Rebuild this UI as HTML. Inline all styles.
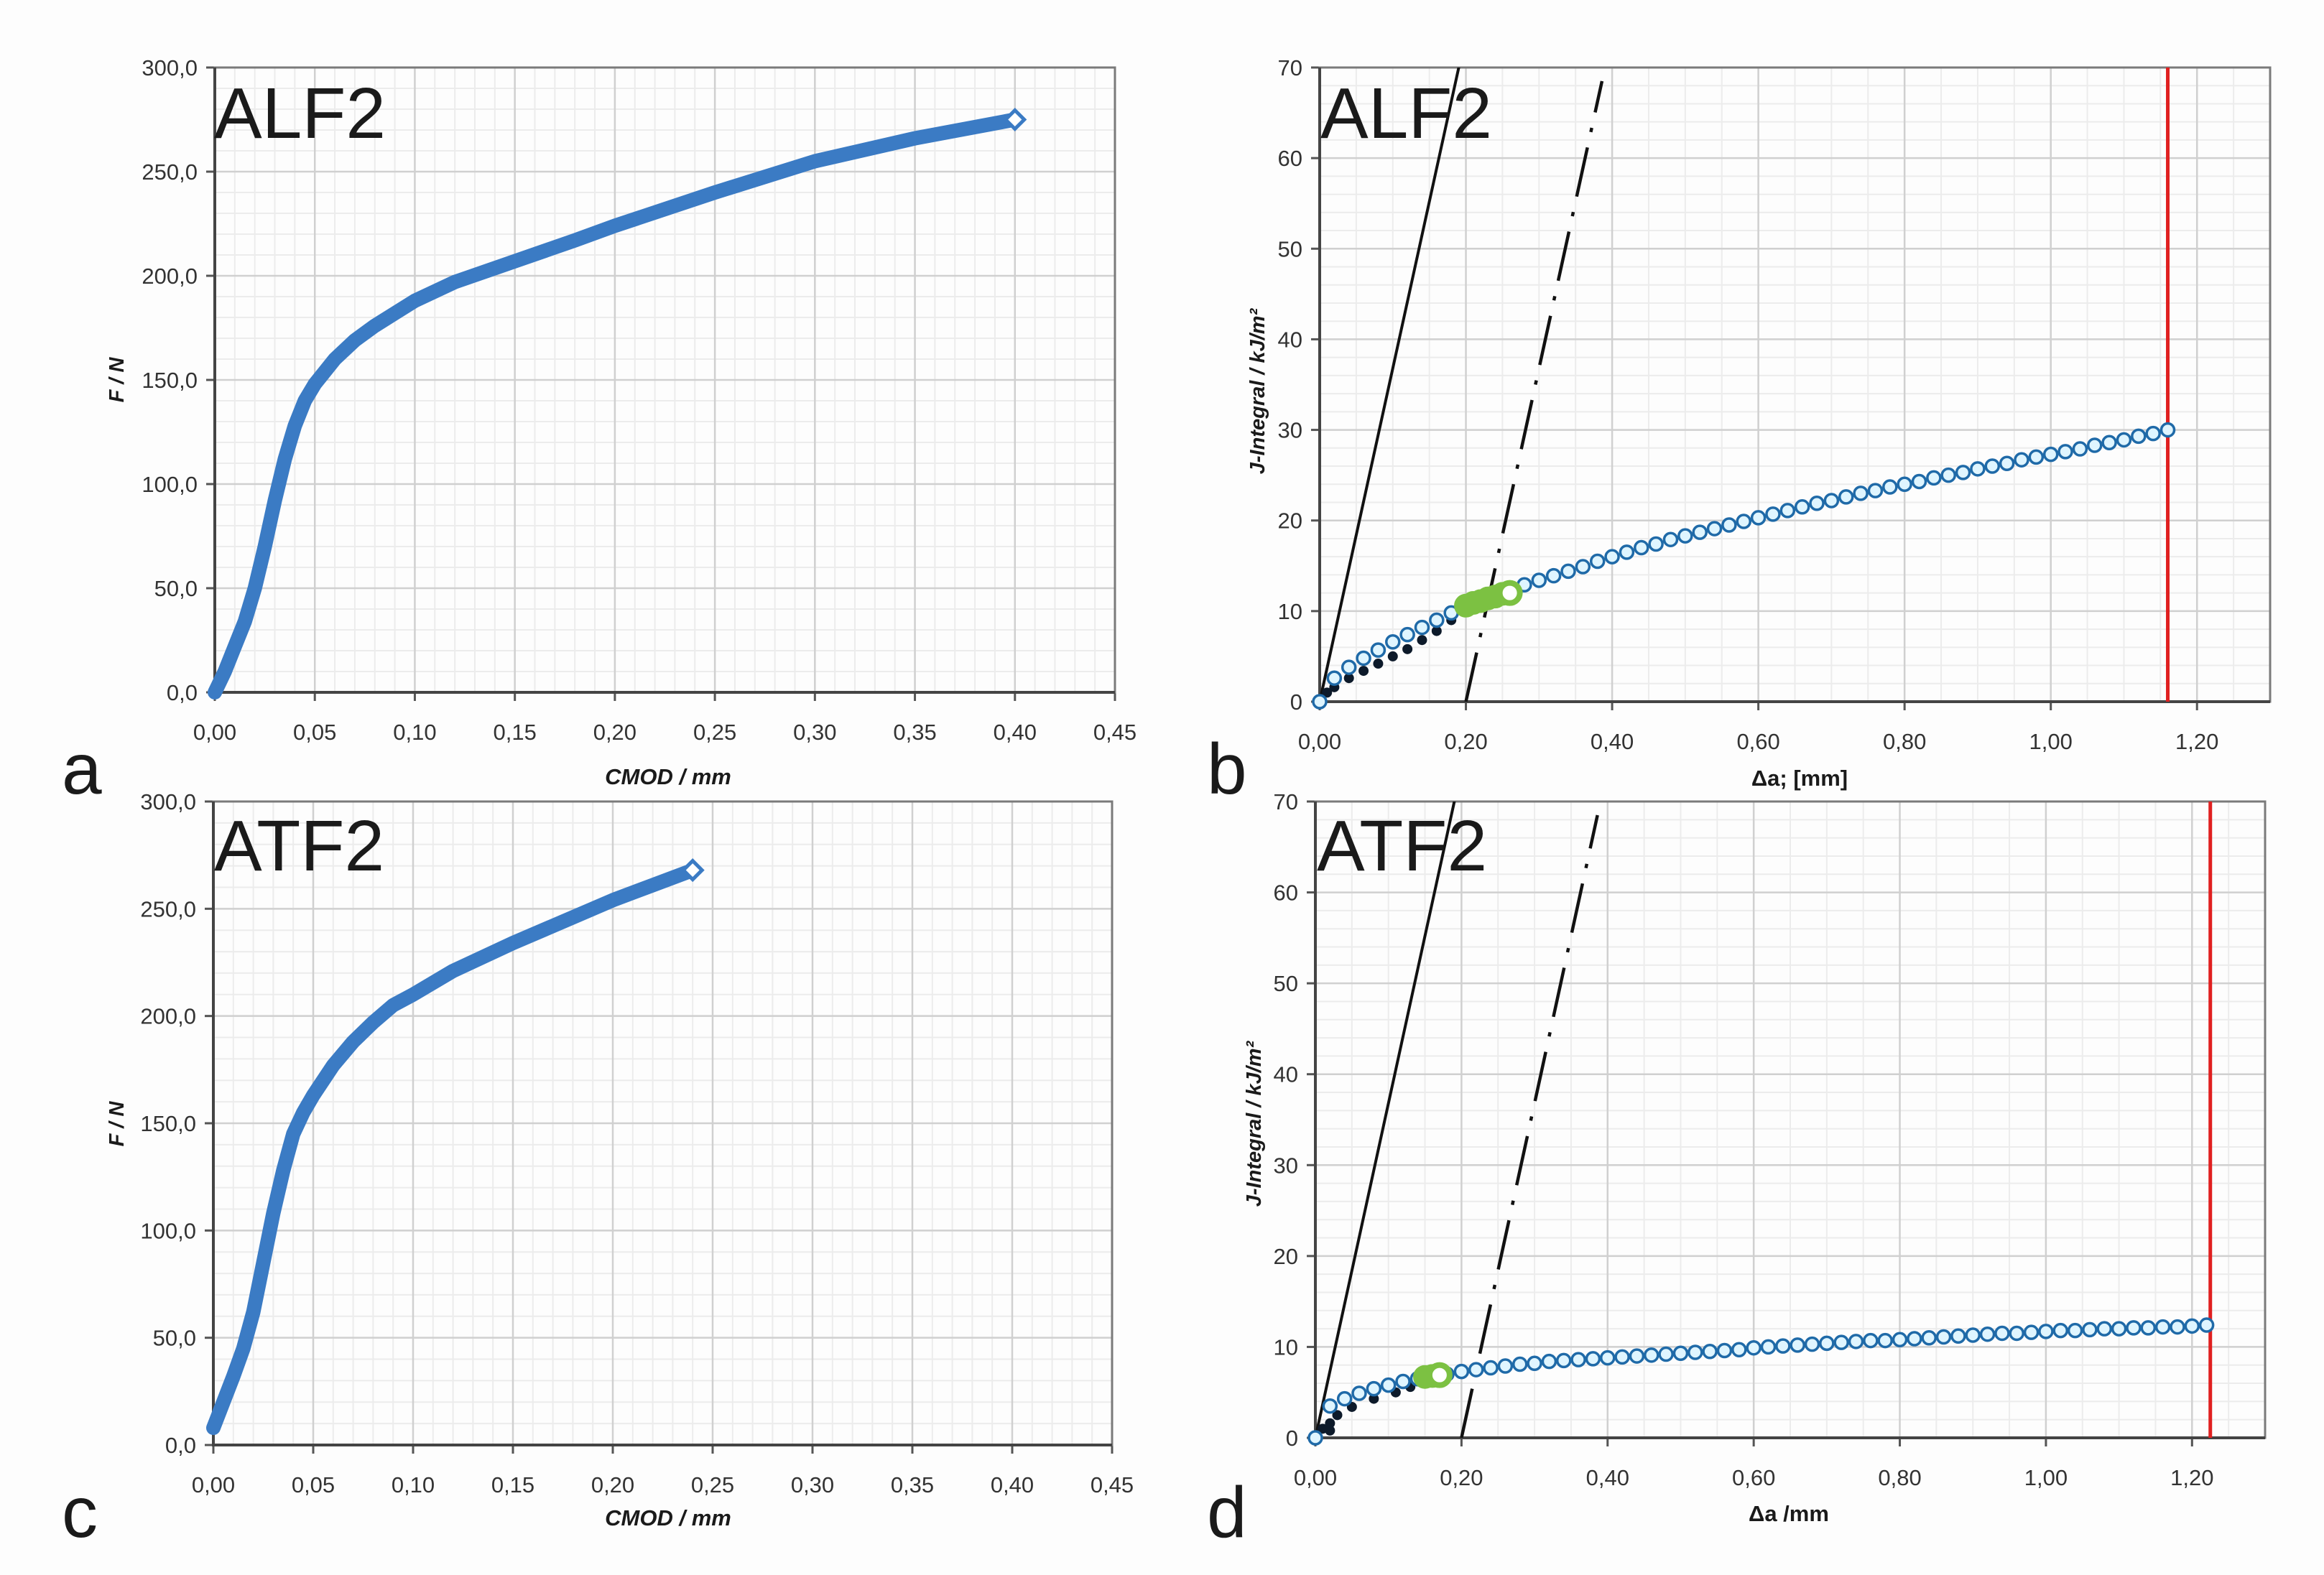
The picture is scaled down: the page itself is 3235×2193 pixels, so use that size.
<!DOCTYPE html>
<html><head><meta charset="utf-8"><title>CMOD and J-R curves</title>
<style>
html,body{margin:0;padding:0;background:#fdfdfd;}
svg{display:block;}
text{font-family:"Liberation Sans Narrow","Liberation Sans",sans-serif;}
</style></head>
<body>
<svg id="fig" xmlns="http://www.w3.org/2000/svg" width="3235" height="2193" viewBox="0 0 3235 2193">
<rect x="0" y="0" width="3235" height="2193" fill="#fdfdfd"/>
</svg>
<script>
// ---------- data ----------
const cmodTicks = ["0,00","0,05","0,10","0,15","0,20","0,25","0,30","0,35","0,40","0,45"];
const forceTicks = ["0,0","50,0","100,0","150,0","200,0","250,0","300,0"];
const daTicks = ["0,00","0,20","0,40","0,60","0,80","1,00","1,20"];
const jTicks = ["0","10","20","30","40","50","60","70"];

const aCmod = [0,0.005,0.01,0.015,0.02,0.025,0.03,0.035,0.04,0.045,0.05,0.06,0.07,0.08,0.09,0.10,0.12,0.15,0.18,0.20,0.25,0.30,0.35,0.40];
const aForce = [0,10,22,34,50,70,92,112,128,140,148,160,169,176,182,188,197,207,217,224,240,255,266,275];
const cCmod = [0,0.005,0.01,0.015,0.02,0.025,0.03,0.035,0.04,0.045,0.05,0.06,0.07,0.08,0.09,0.10,0.12,0.15,0.18,0.20,0.22,0.24];
const cForce = [8,20,32,45,62,85,108,128,145,155,163,177,188,197,205,210,221,234,246,254,261,268];

const bDa = [0,0.02,0.04,0.06,0.08,0.10,0.12,0.14,0.16,0.18,0.20,0.22,0.24,0.26,0.28,0.30,0.32,0.34,0.36,0.38,0.40,0.42,0.44,0.46,0.48,0.50,0.52,0.54,0.56,0.58,0.60,0.62,0.64,0.66,0.68,0.70,0.72,0.74,0.76,0.78,0.80,0.82,0.84,0.86,0.88,0.90,0.92,0.94,0.96,0.98,1.00,1.02,1.04,1.06,1.08,1.10,1.12,1.14,1.16];
const bJ = [0,2.6,3.8,4.8,5.7,6.6,7.4,8.2,9.0,9.8,10.5,11.1,11.7,12.3,12.9,13.4,13.9,14.4,14.9,15.5,16.0,16.5,17.0,17.4,17.9,18.3,18.7,19.1,19.5,19.9,20.3,20.7,21.1,21.5,21.9,22.2,22.6,23.0,23.3,23.7,24.0,24.3,24.7,25.0,25.3,25.7,26.0,26.3,26.7,27.0,27.3,27.6,27.9,28.3,28.6,28.9,29.3,29.6,30.0];
const bGreenDa = [0.20,0.21,0.22,0.23,0.24,0.25,0.26];
const bGreenJ = [10.6,10.9,11.1,11.4,11.6,11.9,12.0];
const bBlackDa = [0.01,0.02,0.04,0.06,0.08,0.10,0.12,0.14,0.16,0.18];
const bBlackJ = [1.0,1.6,2.6,3.4,4.2,5.0,5.8,6.8,7.8,9.0];
const bLimit = [1.16];

const dDa = [0,0.02,0.04,0.06,0.08,0.10,0.12,0.14,0.16,0.18,0.20,0.22,0.24,0.26,0.28,0.30,0.32,0.34,0.36,0.38,0.40,0.42,0.44,0.46,0.48,0.50,0.52,0.54,0.56,0.58,0.60,0.62,0.64,0.66,0.68,0.70,0.72,0.74,0.76,0.78,0.80,0.82,0.84,0.86,0.88,0.90,0.92,0.94,0.96,0.98,1.00,1.02,1.04,1.06,1.08,1.10,1.12,1.14,1.16,1.18,1.20,1.22];
const dJ = [0,3.5,4.3,4.9,5.4,5.8,6.2,6.5,6.8,7.0,7.3,7.5,7.7,7.9,8.1,8.2,8.4,8.5,8.6,8.7,8.8,8.9,9.0,9.1,9.2,9.3,9.4,9.5,9.6,9.7,9.9,10.0,10.1,10.2,10.3,10.4,10.5,10.6,10.7,10.7,10.8,10.9,11.0,11.1,11.2,11.3,11.4,11.5,11.5,11.6,11.7,11.8,11.8,11.9,12.0,12.0,12.1,12.1,12.2,12.2,12.3,12.4];
const dGreenDa = [0.15,0.16,0.17];
const dGreenJ = [6.7,6.8,6.9];
const dBlackDa = [0.01,0.02,0.03,0.05,0.08,0.11,0.13,0.02];
const dBlackJ = [1.0,1.6,2.5,3.4,4.3,5.0,5.6,0.8];
const dLimit = [1.225];

const bluntLine = [0, 368];
const offsetLine = [0.2, 368];

// ---------- helpers ----------
const NS = "http://www.w3.org/2000/svg";
const svg = document.getElementById("fig");
function mk(tag, attrs, parent) {
  const e = document.createElementNS(NS, tag);
  for (const k in attrs) e.setAttribute(k, attrs[k]);
  (parent || svg).appendChild(e);
  return e;
}

function makeAxes(P) {
  const g = mk("g", {});
  
  
  const X = v => P.x0 + (v - P.xmin) / (P.xmax - P.xmin) * (P.x1 - P.x0);
  const Y = v => P.y1 - (v - P.ymin) / (P.ymax - P.ymin) * (P.y1 - P.y0);
  for (let v = P.xmin; v <= P.xmax + 1e-9; v += P.xminor) {
    const l = mk("line", {x1: X(v), x2: X(v), y1: P.y0, y2: P.y1, stroke: "#ececec", "stroke-width": 2}, g);
    
    
  }
  for (let v = P.ymin; v <= P.ymax + 1e-9; v += P.yminor) {
    const l = mk("line", {x1: P.x0, x2: P.x1, y1: Y(v), y2: Y(v), stroke: "#ececec", "stroke-width": 2}, g);
    
    
  }
  P.xticks.forEach((t, i) => {
    const v = P.xmin + i * P.xmajor;
    const l = mk("line", {x1: X(v), x2: X(v), y1: P.y0, y2: P.y1 + 10, stroke: "#d0d0d0", "stroke-width": 2.5}, g);
    
    
    const tk = mk("line", {x1: X(v), x2: X(v), y1: P.y1, y2: P.y1 + 12, stroke: "#555", "stroke-width": 3}, g);
    
    
    const tx = mk("text", {x: X(v), y: P.y1 + 66, "text-anchor": "middle", "font-size": 31, fill: "#333"}, g);
    tx.textContent = t;
    
    
  });
  P.yticks.forEach((t, i) => {
    const v = P.ymin + i * P.ymajor;
    const l = mk("line", {x1: P.x0 - 10, x2: P.x1, y1: Y(v), y2: Y(v), stroke: "#d0d0d0", "stroke-width": 2.5}, g);
    
    
    const tk = mk("line", {x1: P.x0 - 12, x2: P.x0, y1: Y(v), y2: Y(v), stroke: "#555", "stroke-width": 3}, g);
    
    
    const tx = mk("text", {x: P.x0 - 24, y: Y(v) + 11, "text-anchor": "end", "font-size": 31, fill: "#333"}, g);
    tx.textContent = t;
    
    
  });
  const fr = mk("rect", {x: P.x0, y: P.y0, width: P.x1 - P.x0, height: P.y1 - P.y0, fill: "none", stroke: "#7a7a7a", "stroke-width": 3}, g);
  
  
  const ax = mk("path", {d: `M${P.x0},${P.y0} V${P.y1} H${P.x1}`, fill: "none", stroke: "#444", "stroke-width": 4}, g);
  
  
  return {g, X, Y};
}

function addText(str, x, y, size, opts, name) {
  const t = mk("text", Object.assign({x, y, "font-size": size, fill: "#1a1a1a"}, opts || {}));
  t.textContent = str;
  
  
  return t;
}

function forceCurve(A, xs, ys, name) {
  const d = xs.map((v, i) => (i ? "L" : "M") + A.X(v).toFixed(1) + "," + A.Y(ys[i]).toFixed(1)).join(" ");
  const p = mk("path", {d, fill: "none", stroke: "#3b7bc4", "stroke-width": 20, "stroke-linejoin": "round", "stroke-linecap": "round"}, A.g);
  
  
  const n = xs.length - 1;
  const cx = A.X(xs[n]), cy = A.Y(ys[n]);
  const m = mk("path", {d: `M${cx - 13},${cy} L${cx},${cy - 13} L${cx + 13},${cy} L${cx},${cy + 13} Z`, fill: "#ffffff", stroke: "#3b7bc4", "stroke-width": 5}, A.g);
  
  
}

function jrPanel(A, da, j, gda, gj, kda, kj, lim, P) {
  const clip = mk("clipPath", {id: "clip" + P.key});
  mk("rect", {x: P.x0, y: P.y0, width: P.x1 - P.x0, height: P.y1 - P.y0}, clip);
  const cg = mk("g", {"clip-path": `url(#clip${P.key})`}, A.g);
  
  
  const bl = mk("line", {x1: A.X(bluntLine[0]), y1: A.Y(0), x2: A.X(bluntLine[0] + 72 / bluntLine[1]), y2: A.Y(72), stroke: "#111", "stroke-width": 4}, cg);
  
  
  const ol = mk("line", {x1: A.X(offsetLine[0]), y1: A.Y(0), x2: A.X(offsetLine[0] + 68.5 / offsetLine[1]), y2: A.Y(68.5), stroke: "#111", "stroke-width": 4.5, "stroke-dasharray": "70 22 6 22"}, cg);
  
  
  const rl = mk("line", {x1: A.X(lim[0]), x2: A.X(lim[0]), y1: P.y0, y2: P.y1, stroke: "#e02020", "stroke-width": 5}, A.g);
  
  
  kda.forEach((v, i) => {
    const c = mk("circle", {cx: A.X(v), cy: A.Y(kj[i]), r: 7, fill: "#0d1a2a"}, A.g);
    
    
  });
  da.forEach((v, i) => {
    const c = mk("circle", {cx: A.X(v), cy: A.Y(j[i]), r: 9, fill: "#dff5ff", stroke: "#1f6aa8", "stroke-width": 3.5}, A.g);
    
    
  });
  gda.forEach((v, i) => {
    const last = i === gda.length - 1;
    const c = mk("circle", {cx: A.X(v), cy: A.Y(gj[i]), r: 14, fill: last ? "#ffffff" : "#7cc142", stroke: "#7cc142", "stroke-width": last ? 8 : 5}, A.g);
    
    
  });
}

const PA = {name: "panel-a-alf2-force-cmod", x0: 299, x1: 1552, y0: 94, y1: 964, xmin: 0, xmax: 0.45, xmajor: 0.05, xminor: 0.01, ymin: 0, ymax: 300, ymajor: 50, yminor: 10, xticks: cmodTicks, yticks: forceTicks};
const A = makeAxes(PA);
forceCurve(A, aCmod, aForce, "alf2-force-curve");

const PC = {name: "panel-c-atf2-force-cmod", x0: 297, x1: 1548, y0: 1116, y1: 2012, xmin: 0, xmax: 0.45, xmajor: 0.05, xminor: 0.01, ymin: 0, ymax: 300, ymajor: 50, yminor: 10, xticks: cmodTicks, yticks: forceTicks};
const C = makeAxes(PC);
forceCurve(C, cCmod, cForce, "atf2-force-curve");

const PB = {key: "b", name: "panel-b-alf2-jr-curve", x0: 1837, x1: 3160, y0: 94, y1: 977, xmin: 0, xmax: 1.3, xmajor: 0.2, xminor: 0.05, ymin: 0, ymax: 70, ymajor: 10, yminor: 2, xticks: daTicks, yticks: jTicks};
const B = makeAxes(PB);
jrPanel(B, bDa, bJ, bGreenDa, bGreenJ, bBlackDa, bBlackJ, bLimit, PB);

const PD = {key: "d", name: "panel-d-atf2-jr-curve", x0: 1831, x1: 3153, y0: 1116, y1: 2002, xmin: 0, xmax: 1.3, xmajor: 0.2, xminor: 0.05, ymin: 0, ymax: 70, ymajor: 10, yminor: 2, xticks: daTicks, yticks: jTicks};
const D = makeAxes(PD);
jrPanel(D, dDa, dJ, dGreenDa, dGreenJ, dBlackDa, dBlackJ, dLimit, PD);

addText("ALF2", 298, 192, 100, {"font-family": "Liberation Sans, sans-serif"}, "panel-a-title");
addText("ATF2", 298, 1212, 100, {"font-family": "Liberation Sans, sans-serif"}, "panel-c-title");
addText("ALF2", 1838, 192, 100, {"font-family": "Liberation Sans, sans-serif"}, "panel-b-title");
addText("ATF2", 1833, 1212, 100, {"font-family": "Liberation Sans, sans-serif"}, "panel-d-title");
addText("a", 86, 1105, 100, {"font-family": "Liberation Sans, sans-serif"}, "panel-label-a");
addText("b", 1680, 1105, 100, {"font-family": "Liberation Sans, sans-serif"}, "panel-label-b");
addText("c", 86, 2140, 100, {"font-family": "Liberation Sans, sans-serif"}, "panel-label-c");
addText("d", 1680, 2140, 100, {"font-family": "Liberation Sans, sans-serif"}, "panel-label-d");

addText("CMOD / mm", 930, 1092, 31, {"text-anchor": "middle", "font-weight": "bold", "font-style": "italic"}, "x-axis-title-a");
addText("CMOD / mm", 930, 2124, 31, {"text-anchor": "middle", "font-weight": "bold", "font-style": "italic"}, "x-axis-title-c");
addText("Δa; [mm]", 2505, 1094, 31, {"text-anchor": "middle", "font-weight": "bold"}, "x-axis-title-b");
addText("Δa  /mm", 2490, 2118, 31, {"text-anchor": "middle", "font-weight": "bold"}, "x-axis-title-d");
addText("F / N", 0, 0, 29, {"text-anchor": "middle", "font-weight": "bold", "font-style": "italic", transform: "translate(172,529) rotate(-90)"}, "y-axis-title-a");
addText("F / N", 0, 0, 29, {"text-anchor": "middle", "font-weight": "bold", "font-style": "italic", transform: "translate(172,1565) rotate(-90)"}, "y-axis-title-c");
addText("J-Integral / kJ/m²", 0, 0, 29, {"text-anchor": "middle", "font-weight": "bold", "font-style": "italic", transform: "translate(1760,545) rotate(-90)"}, "y-axis-title-b");
addText("J-Integral / kJ/m²", 0, 0, 29, {"text-anchor": "middle", "font-weight": "bold", "font-style": "italic", transform: "translate(1755,1565) rotate(-90)"}, "y-axis-title-d");
</script>
</body></html>
